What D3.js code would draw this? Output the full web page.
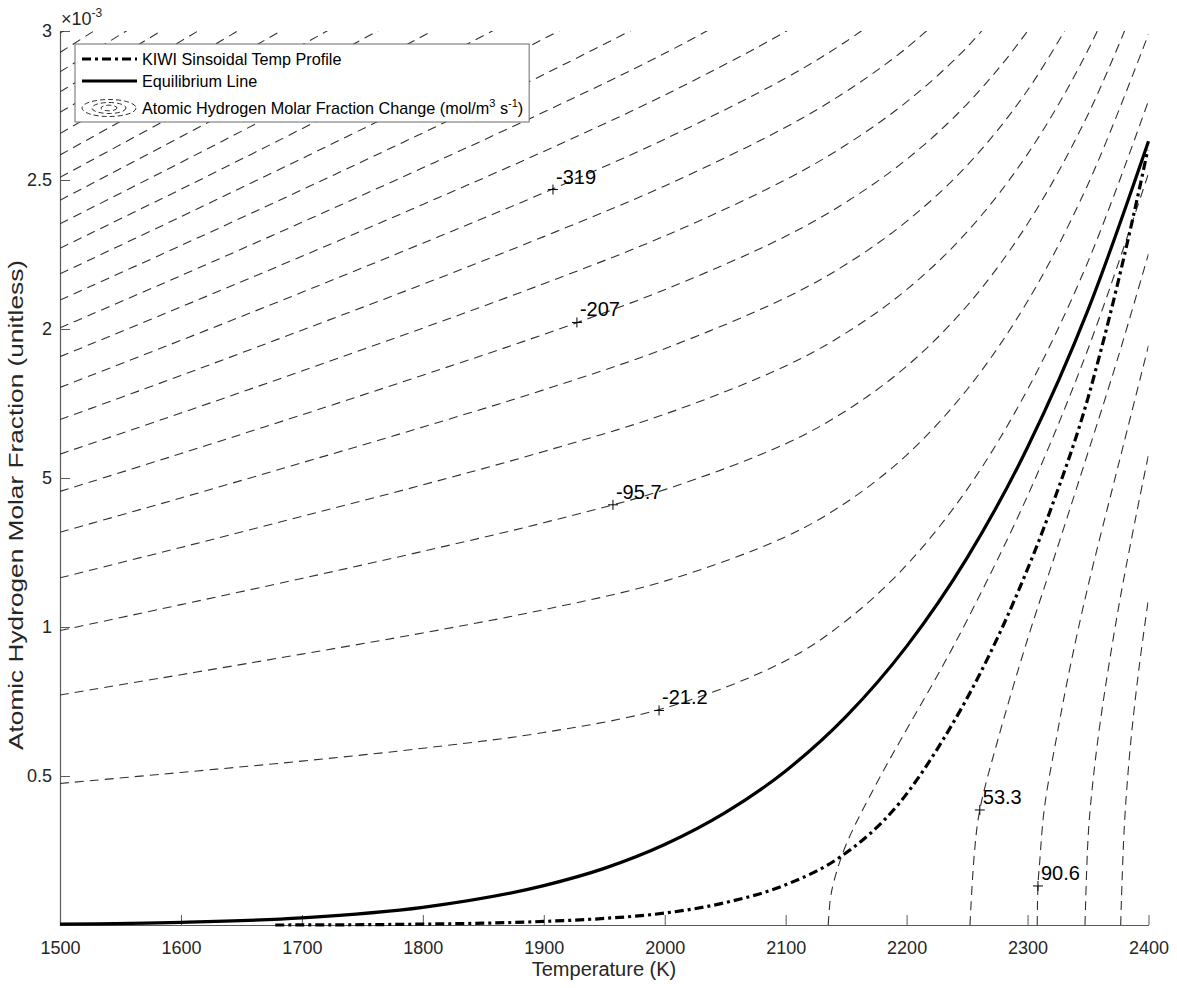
<!DOCTYPE html>
<html>
<head>
<meta charset="utf-8">
<script src="https://cdn.jsdelivr.net/npm/d3@7"></script>
<style>
  body { margin: 0; background: #ffffff; }
  svg text { font-family: "Liberation Sans", Arial, Helvetica, sans-serif; }
</style>
</head>
<body>
<svg id="chart" width="1177" height="988"></svg>
<script>
// ---- axis ticks ----
const tempTicks = [1500, 1600, 1700, 1800, 1900, 2000, 2100, 2200, 2300, 2400];
const fracTicks = [0.5, 1, 1.5, 2, 2.5, 3];
const fracTickLabels = ["0.5", "1", "5", "2", "2.5", "3"];

// ---- contour field: negative levels, y (x1e-3) sampled on a shared temperature grid ----
const gridTemps = [1500, 1600, 1700, 1800, 1900, 2000, 2100, 2150, 2200, 2250, 2300, 2350, 2400];
const negLevels = [-21.2, -58.45, -95.7, -132.95, -170.2, -207.45, -244.7, -281.95, -319.2,
  -356.45, -393.7, -430.95, -468.2, -505.45, -542.7, -579.95, -617.2, -654.45, -691.7,
  -728.95, -766.2, -803.45, -840.7, -877.95];
const negLevelY = [
  [0.475, 0.512, 0.550, 0.593, 0.646, 0.728, 0.887, 1.021, 1.208, 1.462, 1.797, 2.226, 2.766],
  [0.772, 0.840, 0.909, 0.980, 1.058, 1.154, 1.303, 1.418, 1.577, 1.797, 2.093, 2.486, 2.990],
  [0.988, 1.075, 1.163, 1.254, 1.350, 1.461, 1.615, 1.726, 1.875, 2.078, 2.353, 2.720, 3.198],
  [1.165, 1.267, 1.371, 1.477, 1.589, 1.714, 1.876, 1.987, 2.132, 2.326, 2.587, 2.936, 3.394],
  [1.318, 1.433, 1.551, 1.671, 1.796, 1.934, 2.105, 2.217, 2.361, 2.549, 2.801, 3.137],
  [1.455, 1.582, 1.712, 1.845, 1.982, 2.132, 2.311, 2.426, 2.569, 2.755, 3.000, 3.326],
  [1.580, 1.718, 1.859, 2.003, 2.152, 2.312, 2.501, 2.618, 2.762, 2.946, 3.187],
  [1.696, 1.844, 1.996, 2.150, 2.310, 2.480, 2.677, 2.797, 2.943, 3.126],
  [1.804, 1.962, 2.123, 2.288, 2.457, 2.637, 2.842, 2.965, 3.112],
  [1.907, 2.074, 2.244, 2.418, 2.596, 2.785, 2.998, 3.124],
  [2.004, 2.179, 2.358, 2.541, 2.728, 2.925, 3.146],
  [2.097, 2.280, 2.467, 2.658, 2.854, 3.059],
  [2.185, 2.377, 2.572, 2.771, 2.974, 3.188],
  [2.271, 2.469, 2.672, 2.879, 3.090],
  [2.353, 2.559, 2.769, 2.983, 3.202],
  [2.432, 2.645, 2.862, 3.083],
  [2.509, 2.729, 2.953, 3.181],
  [2.584, 2.810, 3.040],
  [2.656, 2.889, 3.126],
  [2.727, 2.966, 3.209],
  [2.796, 3.040],
  [2.863, 3.113],
  [2.928, 3.185],
  [2.993, 3.255]
];

// ---- contour field: positive levels (rise from the temperature axis) ----
const posLevels = [16.05, 53.3, 90.6, 127.8, 165.1];
const posLevelT = [
  [2135.2, 2137, 2140, 2150, 2175, 2200, 2225, 2250, 2300, 2350, 2400],
  [2252.4, 2256, 2260.5, 2275, 2300, 2325, 2350, 2375, 2400],
  [2308, 2308.6, 2310, 2314, 2324, 2335, 2350, 2375, 2400],
  [2347.5, 2350, 2353, 2360, 2375, 2390, 2400],
  [2377, 2380, 2385, 2392, 2400]
];
const posLevelY = [
  [0, 0.089, 0.148, 0.270, 0.474, 0.656, 0.834, 1.023, 1.440, 1.933, 2.522],
  [0, 0.240, 0.386, 0.615, 0.959, 1.270, 1.586, 1.907, 2.252],
  [0, 0.131, 0.210, 0.395, 0.630, 0.862, 1.137, 1.542, 1.944],
  [0, 0.290, 0.440, 0.678, 1.060, 1.379, 1.578],
  [0, 0.330, 0.600, 0.857, 1.096]
];

// ---- contour labels ----
const labelLevels = [-319.2, -207.45, -95.7, -21.2, 53.3, 90.6];
const labelT = [1907.6, 1927.4, 1957.2, 1995.3, 2260.5, 2308.6];
const labelY = [2.468, 2.022, 1.410, 0.720, 0.386, 0.131];

// ---- equilibrium line ----
const eqT = [1500, 1600, 1700, 1800, 1900, 1950, 2000, 2050, 2100, 2150, 2200, 2250, 2300, 2350, 2400];
const eqY = [0.003, 0.009, 0.024, 0.059, 0.132, 0.190, 0.270, 0.377, 0.517, 0.700, 0.935, 1.232, 1.603, 2.064, 2.630];

// ---- KIWI sinusoidal temperature profile ----
const kiwiT = [1678, 1750, 1800, 1850, 1900, 1950, 2000, 2050, 2100, 2145, 2194, 2230, 2260, 2290, 2320, 2350, 2360, 2373.5, 2387, 2399.4];
const kiwiY = [0, 0.001, 0.003, 0.006, 0.012, 0.022, 0.040, 0.075, 0.135, 0.228, 0.409, 0.621, 0.838, 1.098, 1.404, 1.769, 1.918, 2.135, 2.370, 2.601];

// ---- legend ----
const legendLabels = ["KIWI Sinsoidal Temp Profile", "Equilibrium Line", "Atomic Hydrogen Molar Fraction Change (mol/m"];

const svg = d3.select("#chart");
const x = d3.scaleLinear().domain([1500, 2400]).range([60, 1148.5]);
const y = d3.scaleLinear().domain([0, 3]).range([925, 31]);
const axisColor = "#5a5a5a";
const textColor = "#262626";

svg.append("rect").attr("width", 1177).attr("height", 988).attr("fill", "#fff");

// axes
const gx = svg.append("g").attr("transform", "translate(0,925)")
  .call(d3.axisBottom(x).tickValues(tempTicks).tickFormat(d3.format("d"))
    .tickSizeInner(-10).tickSizeOuter(0).tickPadding(16));
const gy = svg.append("g").attr("transform", "translate(60,0)")
  .call(d3.axisLeft(y).tickValues(fracTicks).tickFormat((d, i) => fracTickLabels[i])
    .tickSizeInner(-10).tickSizeOuter(0).tickPadding(8));
[gx, gy].forEach(g => {
  g.select(".domain").attr("stroke", axisColor).attr("stroke-width", 1.2);
  g.selectAll(".tick line").attr("stroke", axisColor).attr("stroke-width", 1);
  g.selectAll(".tick text").attr("fill", textColor).attr("font-size", 18)
    .attr("font-family", "Liberation Sans, Arial, sans-serif");
});

// exponent marker
const expText = svg.append("text").attr("x", 61).attr("y", 25).attr("fill", textColor).attr("font-size", 18);
expText.append("tspan").text("\u00d710");
expText.append("tspan").attr("font-size", 12).attr("dy", -8).text("-3");

// axis titles
svg.append("text").attr("x", 604).attr("y", 976).attr("text-anchor", "middle")
  .attr("fill", textColor).attr("font-size", 20).text("Temperature (K)");
svg.append("text").attr("transform", "translate(23,505) rotate(-90)").attr("text-anchor", "middle")
  .attr("fill", textColor).attr("font-size", 21)
  .attr("textLength", 490).attr("lengthAdjust", "spacingAndGlyphs")
  .text("Atomic Hydrogen Molar Fraction (unitless)");

// clip region for the contour lines
svg.append("defs").append("clipPath").attr("id", "plotClip")
  .append("rect").attr("x", 60).attr("y", 31).attr("width", 1148.5 - 60).attr("height", 925 - 31);

const contourLine = d3.line().x(d => x(d[0])).y(d => y(d[1])).curve(d3.curveCatmullRom.alpha(0.5));
const gc = svg.append("g").attr("clip-path", "url(#plotClip)")
  .attr("fill", "none").attr("stroke", "#303030").attr("stroke-width", 1.1).attr("stroke-dasharray", "9,6");

negLevels.forEach((lev, i) => {
  const pts = negLevelY[i].map((v, k) => [gridTemps[k], v]);
  gc.append("path").attr("class", "contour").attr("data-level", lev).attr("d", contourLine(pts));
});
posLevels.forEach((lev, i) => {
  const pts = posLevelT[i].map((t, k) => [t, posLevelY[i][k]]);
  gc.append("path").attr("class", "contour").attr("data-level", lev).attr("d", contourLine(pts));
});

// equilibrium and KIWI profile
const smooth = d3.line().x(d => x(d[0])).y(d => y(d[1])).curve(d3.curveMonotoneX);
svg.append("path").attr("d", smooth(eqT.map((t, i) => [t, eqY[i]])))
  .attr("fill", "none").attr("stroke", "#000").attr("stroke-width", 3.2);
svg.append("path").attr("d", smooth(kiwiT.map((t, i) => [t, kiwiY[i]])))
  .attr("fill", "none").attr("stroke", "#000").attr("stroke-width", 3.2)
  .attr("stroke-dasharray", "9,4,3,4");

// contour labels with + markers
labelLevels.forEach((lev, i) => {
  const px = x(labelT[i]), py = y(labelY[i]);
  svg.append("path").attr("d", `M${px - 5},${py}H${px + 5}M${px},${py - 5}V${py + 5}`)
    .attr("stroke", "#000").attr("stroke-width", 1);
  svg.append("text").attr("x", px + 3).attr("y", py - 6).attr("font-size", 20)
    .attr("fill", "#000").text(lev.toPrecision(3));
});

// legend
const lg = svg.append("g");
const box = lg.append("rect").attr("x", 75).attr("y", 44).attr("height", 78)
  .attr("fill", "#fff").attr("stroke", "#6a6a6a").attr("stroke-width", 1);
const rowsY = [59, 81, 108];
lg.append("line").attr("x1", 82).attr("x2", 137).attr("y1", rowsY[0]).attr("y2", rowsY[0])
  .attr("stroke", "#000").attr("stroke-width", 3.2).attr("stroke-dasharray", "9,4,3,4");
lg.append("line").attr("x1", 82).attr("x2", 137).attr("y1", rowsY[1]).attr("y2", rowsY[1])
  .attr("stroke", "#000").attr("stroke-width", 3.2);
[[27, 8.5], [17, 5.5], [8, 2.8]].forEach(r => {
  lg.append("ellipse").attr("cx", 109).attr("cy", rowsY[2]).attr("rx", r[0]).attr("ry", r[1])
    .attr("fill", "none").attr("stroke", "#303030").attr("stroke-width", 1).attr("stroke-dasharray", "5,3");
});
const texts = legendLabels.map((s, i) => lg.append("text").attr("x", 142).attr("y", rowsY[i] + 6)
  .attr("font-size", 16.2).attr("fill", "#000").text(s));
const last = texts[2];
last.append("tspan").attr("font-size", 11).attr("dy", -7).text("3");
last.append("tspan").attr("dy", 7).text(" s");
last.append("tspan").attr("font-size", 11).attr("dy", -7).text("-1");
last.append("tspan").attr("dy", 7).text(")");
const wMax = d3.max(texts, t => t.node().getComputedTextLength());
box.attr("width", 142 + wMax + 6 - 75);
</script>
</body>
</html>
